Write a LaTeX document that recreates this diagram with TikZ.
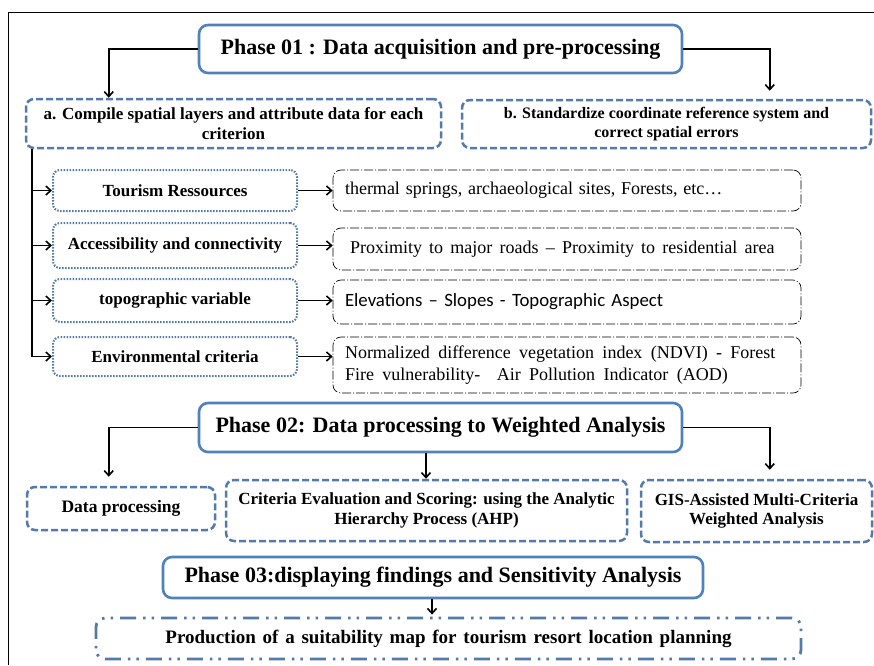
\documentclass[tikz,border=0pt]{standalone}
\usepackage{fontspec}
\setmainfont{Liberation Serif}
\newfontfamily\calib{Carlito}
\usetikzlibrary{arrows.meta}
\definecolor{phblue}{RGB}{79,129,189}
\definecolor{dshblue}{RGB}{84,121,171}
\definecolor{dotblue}{RGB}{82,120,163}
\begin{document}
\begin{tikzpicture}[x=1pt,y=-1pt,
  phase/.style={draw=phblue, line width=2.6pt, rounded corners=9pt, inner sep=0pt, align=center,
    font=\fontsize{22}{26}\selectfont\bfseries},
  dbox/.style={draw=dshblue, line width=2.5pt, dash pattern=on 7pt off 3pt, rounded corners=8pt,
    inner sep=0pt, align=center, font=\fontsize{17}{19.5}\selectfont\bfseries},
  cbox/.style={draw=dotblue, line width=2pt, dash pattern=on 1.5pt off 1.5pt, rounded corners=7pt,
    inner sep=0pt, align=center, minimum width=244pt, font=\fontsize{17}{20}\selectfont\bfseries},
  descbox/.style={draw=black, line width=0.7pt, dash pattern=on 9pt off 2pt on 1pt off 2pt,
    rounded corners=8pt, inner xsep=12pt, inner ysep=0pt, text width=444pt, align=left,
    minimum width=468pt, font=\fontsize{18}{22}\selectfont},
  prodbox/.style={draw=dshblue, line width=2.8pt, dash pattern=on 16pt off 7pt on 2.5pt off 6pt on 2.5pt off 7pt,
    rounded corners=9pt, inner sep=0pt, align=center, font=\fontsize{19}{22}\selectfont\bfseries},
  conn/.style={draw=black, line width=1.8pt},
  arr/.style={conn, -{Straight Barb[length=5pt,width=9pt,line width=1.6pt]}}
]
\fill[white] (0,0) rectangle (874,665);
\useasboundingbox (0,0) rectangle (874,665);
\draw[line width=1pt] (874,12) -- (8,12) -- (8,665);

% Phase 01
\node[phase, minimum width=483pt, minimum height=48pt] (p1) at (440.5,49) {Phase 01 : Data acquisition and pre-processing};
\node[dbox, minimum width=415pt, minimum height=49pt] (a) at (233.5,123.5) {a. Compile spatial layers and attribute data for each\\criterion};
\node[dbox, minimum width=409pt, minimum height=48pt, font=\fontsize{16}{19.5}\selectfont\bfseries] (b) at (666.5,124) {b. Standardize coordinate reference system and\\correct spatial errors};

% criteria
\node[cbox, minimum height=41pt] (c1) at (175,190.5) {Tourism Ressources};
\node[cbox, minimum height=45pt] (c2) at (175,245.5) {Accessibility and connectivity};
\node[cbox, minimum height=43pt] (c3) at (175,300.5) {topographic variable};
\node[cbox, minimum height=39pt] (c4) at (175,356.5) {Environmental criteria};

% descriptions
\node[descbox, minimum height=41pt] (d1) at (567,190.5) {\spaceskip=5.8pt thermal springs, archaeological sites, Forests, etc…};
\node[descbox, minimum height=42pt] (d2) at (567,249) {\spaceskip=7.2pt\hspace*{5pt}Proximity to major roads – Proximity to residential area};
\node[descbox, minimum height=44pt, font=\fontsize{18.8}{22}\calib] (d3) at (567,302) {Elevations – Slopes - Topographic Aspect};
\node[descbox, minimum height=56pt] (d4) at (567,365) {\spaceskip=8.3pt Normalized difference vegetation index (NDVI) - Forest\\Fire vulnerability-~~Air Pollution Indicator (AOD)};

% Phase 02
\node[phase, minimum width=483pt, minimum height=49pt] (p2) at (440.5,427.5) {Phase 02: Data processing to Weighted Analysis};
\node[dbox, minimum width=188pt, minimum height=43pt, font=\fontsize{17.5}{20}\selectfont\bfseries] (dp) at (121,508.5) {Data processing};
\node[dbox, minimum width=401pt, minimum height=61pt] (ce) at (426.5,510.5) {Criteria Evaluation and Scoring: using the Analytic\\Hierarchy Process (AHP)};
\node[dbox, minimum width=231pt, minimum height=62pt] (gis) at (756.5,511) {GIS-Assisted Multi-Criteria\\Weighted Analysis};

% Phase 03
\node[phase, minimum width=540pt, minimum height=41pt] (p3) at (433,577.5) {Phase 03:displaying findings and Sensitivity Analysis};
\node[prodbox, minimum width=705pt, minimum height=41pt] (prod) at (448.5,638.5) {\spaceskip=6.8pt Production of a suitability map for tourism resort location planning};

% connectors
\draw[arr] (p1.west) -| ([xshift=84pt]a.north west);
\draw[arr, shorten >=8pt] (p1.east) -| ([xshift=309pt]b.north west);
\coordinate (trunk) at ([xshift=7pt]a.south west);
\draw[arr] (trunk) |- (c4.west);
\foreach \i in {1,2,3} {\draw[arr] (trunk |- c\i.west) -- (c\i.west);}
\foreach \i in {1,2,3,4} {\draw[arr] (c\i.east) -- (c\i.east -| d\i.west);}

\draw[arr, shorten >=9pt] (p2.west) -| ([xshift=83pt]dp.north west);
\draw[arr] ([xshift=-14.5pt]p2.south) -- ([xshift=-14.5pt]p2.south |- ce.north);
\draw[arr, shorten >=9pt] (p2.east) -| ([xshift=130pt]gis.north west);
\draw[arr, shorten >=2pt] ([xshift=-1pt]p3.south) -- ([xshift=-1pt]p3.south |- prod.north);
\end{tikzpicture}
\end{document}
